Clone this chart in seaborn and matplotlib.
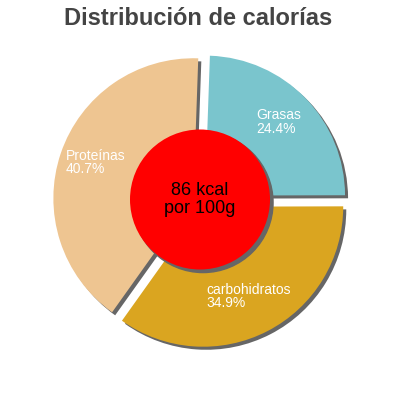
import matplotlib
matplotlib.use("Agg")
import matplotlib.pyplot as plt
import matplotlib.patches as mpatches
import seaborn as sns

# Data
categories = ["Grasas", "carbohidratos", "Proteínas"]
percentages = [24.4, 34.9, 40.7]
colors = ["#7AC5CD", "#DAA520", "#EEC591"]
title = "Distribución de calorías"
center_lines = ["86 kcal", "por 100g"]

sns.set_theme(style="white")
plt.rcParams["font.family"] = ["Liberation Sans", "DejaVu Sans"]

fig = plt.figure(figsize=(4, 4), dpi=100)
ax = fig.add_axes([0, 0, 1, 1])

H = 400
R = 140
shadow_kw = {"ox": 2.2, "oy": -2.2, "facecolor": "#666666",
             "edgecolor": "#666666", "alpha": 1}

wedges, _ = ax.pie(percentages, colors=colors, startangle=88, counterclock=False,
                   radius=R, center=(200, H - 200.5), explode=[7] * 3,
                   shadow=shadow_kw, frame=True,
                   wedgeprops={"linewidth": 0})
ax.set_xlim(0, 400)
ax.set_ylim(0, 400)
ax.set_aspect("equal")
ax.axis("off")

circ = mpatches.Circle((200, H - 199.5), 70, facecolor="#FF0000", edgecolor="none", zorder=5)
ax.add_patch(circ)
sh = mpatches.Shadow(circ, 2.2, -2.2, facecolor="#666666", edgecolor="#666666", alpha=1)
sh.set_zorder(4.9)
ax.add_patch(sh)

# Labels (left x, last-line baseline)
label_pos = {"Grasas": (256.7, 132.7),
             "carbohidratos": (206, 307.3),
             "Proteínas": (65.7, 173.3)}
for cat, pct in zip(categories, percentages):
    x, b2 = label_pos[cat]
    ax.text(x, H - b2, f"{cat}\n{pct}%", color="white", fontsize=10, ha="left",
            va="baseline", linespacing=0.93, zorder=6)

ax.text(200, H - 195, center_lines[0], color="black", fontsize=13, ha="center",
        va="baseline", zorder=6)
ax.text(200, H - 213.3, center_lines[1], color="black", fontsize=13, ha="center",
        va="baseline", zorder=6)

ax.text(198, H - 24.7, title, color="#444444", fontsize=17, fontweight="bold",
        ha="center", va="baseline")

fig.savefig("out.png", dpi=100)
